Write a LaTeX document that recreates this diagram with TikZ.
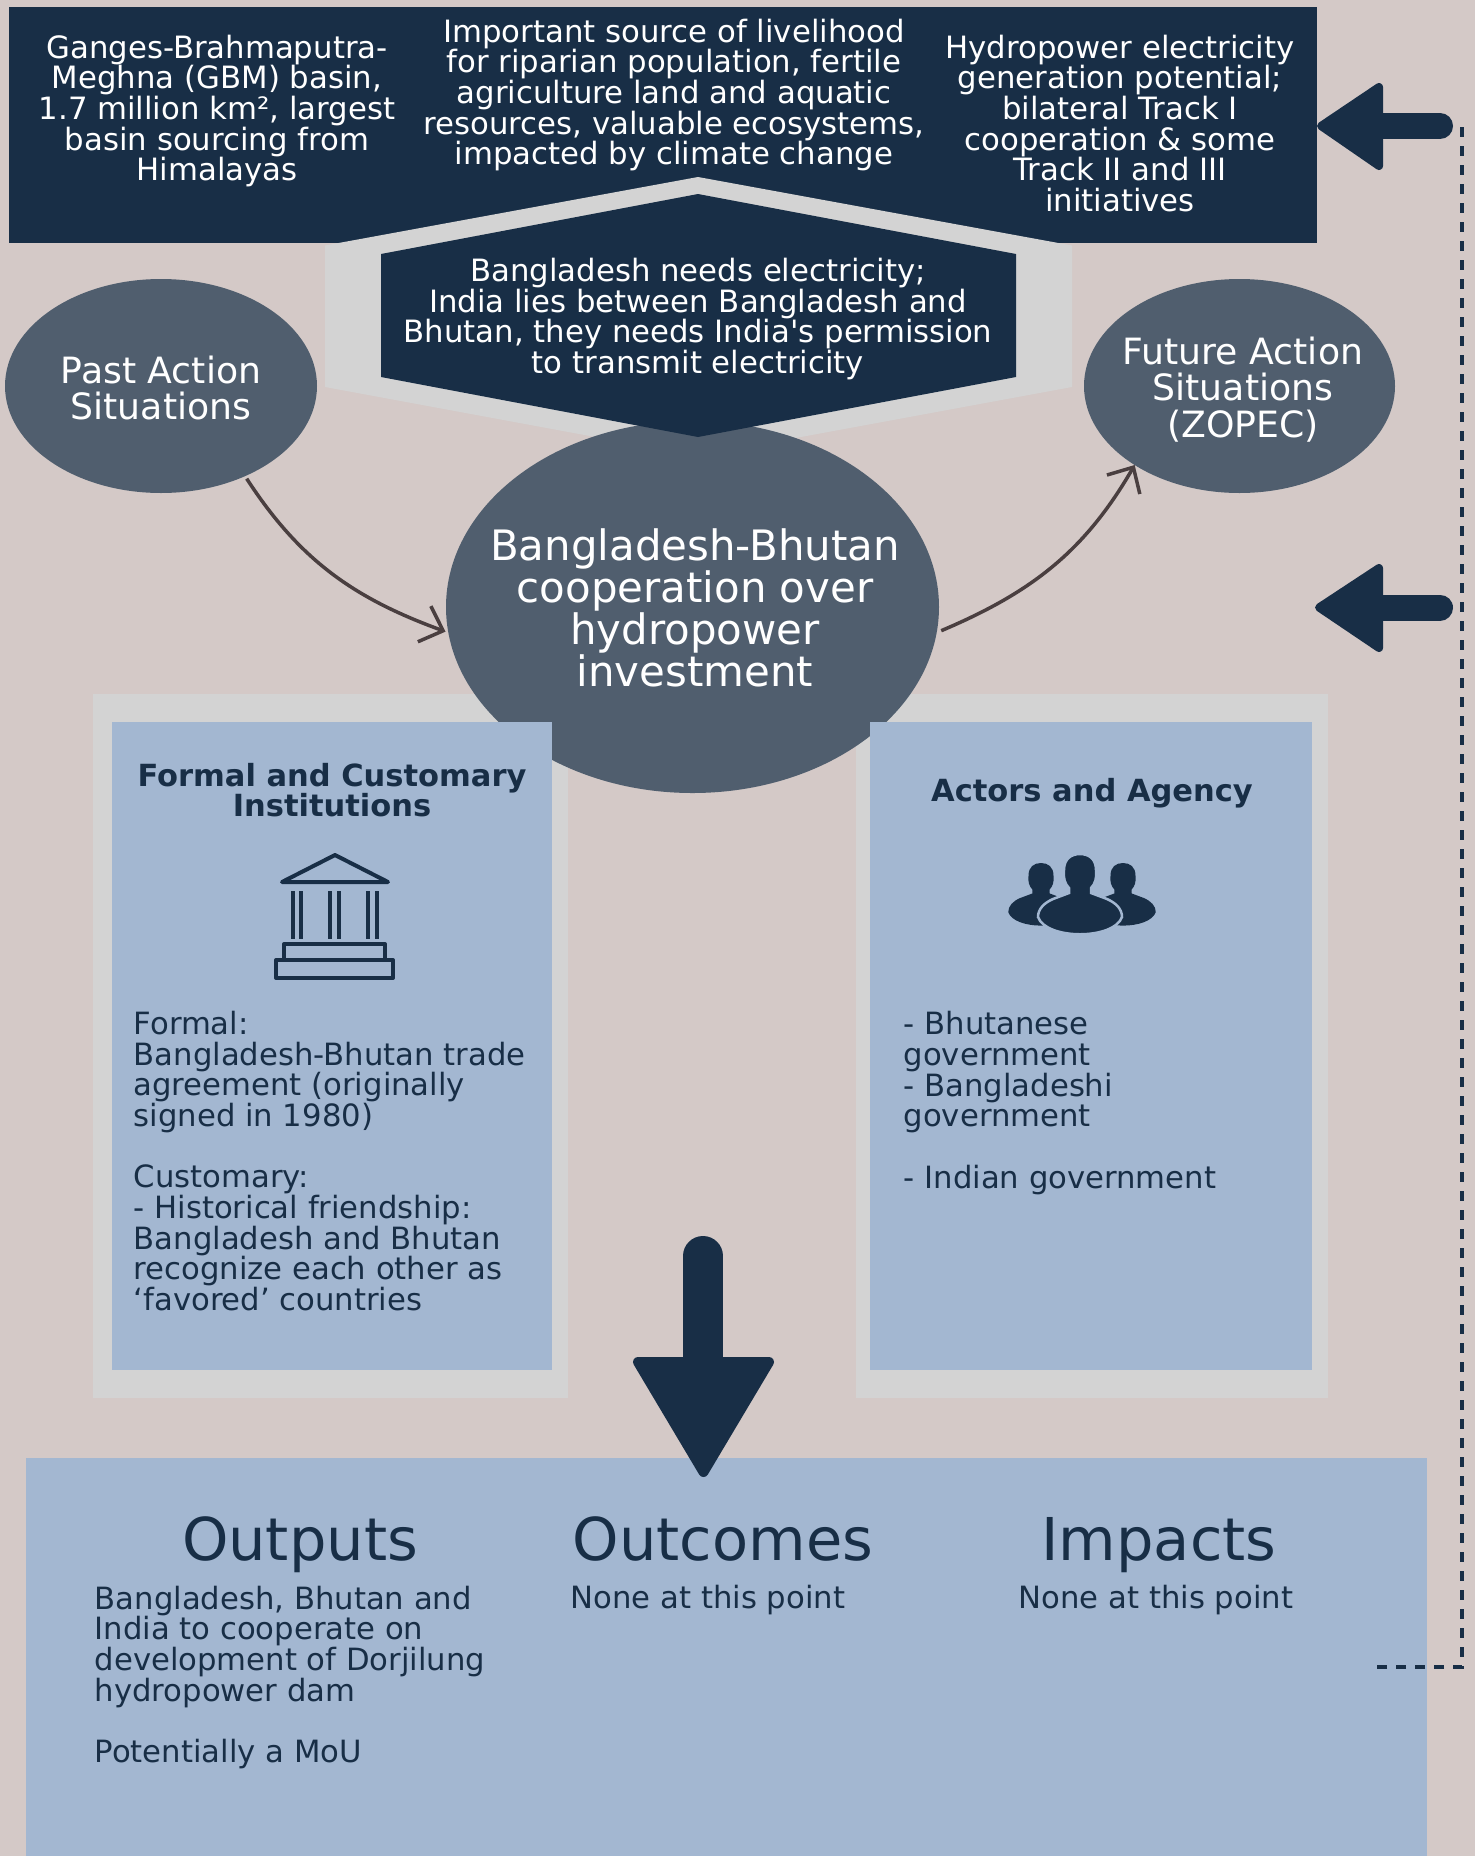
\documentclass[tikz,border=0pt]{standalone}
\usepackage{fontspec}
\usetikzlibrary{arrows.meta,shapes.geometric}
\newfontfamily\labelfont{DejaVu Sans}
\definecolor{paper}{HTML}{D4C9C7}
\definecolor{navy}{HTML}{182E46}
\definecolor{slate}{HTML}{505E6E}
\definecolor{steel}{HTML}{A3B7D1}
\definecolor{frame}{HTML}{D3D3D3}
\definecolor{curve}{HTML}{4A3F40}
\lineskiplimit=-20pt
\newcommand{\personshape}{(-.11,-.34) .. controls (-.15,-.30) and (-.17,-.24) .. (-.16,-.16) .. controls (-.16,-.05) and (-.09,0) .. (0,0) .. controls (.09,0) and (.16,-.05) .. (.16,-.16) .. controls (.17,-.24) and (.15,-.30) .. (.11,-.34) -- (.11,-.39) -- (.27,-.45) .. controls (.36,-.49) and (.42,-.55) .. (.42,-.63) .. controls (.34,-.86) and (-.34,-.86) .. (-.42,-.63) .. controls (-.42,-.55) and (-.36,-.49) .. (-.27,-.45) -- (-.11,-.39) -- cycle}
\begin{document}
\begin{tikzpicture}[
    panel/.style={inner sep=0pt,outer sep=0pt,anchor=north west},
    bubble/.style={ellipse,fill=slate,inner sep=0pt,outer sep=0pt},
    lighttext/.style={text=white,align=center,inner sep=0pt,font=\labelfont\fontsize{8.75}{8.73}\selectfont},
    bubbletext/.style={text=white,align=center,inner sep=0pt,font=\labelfont\fontsize{10.3}{10.4}\selectfont},
    boxtitle/.style={text=navy,align=center,inner sep=0pt,font=\labelfont\bfseries\fontsize{8.68}{8.73}\selectfont},
    boxtext/.style={text=navy,align=left,inner sep=0pt,font=\labelfont\fontsize{8.73}{8.73}\selectfont},
    heading/.style={text=navy,inner sep=0pt,anchor=base,font=\labelfont\fontsize{16.8}{17}\selectfont},
    blockhead/.style={fill=navy,draw=navy,line join=round},
    shaft/.style={draw=navy,line cap=round},
    swoop/.style={draw=curve,line width=.035cm,-{Straight Barb[length=.2cm,width=.38cm]}},
    icon/.style={draw=navy,line width=.04cm,line join=round}]
        \useasboundingbox (0,0) rectangle (14.75,-18.56);
        \fill[paper] (0,0) rectangle (14.75,-18.56);

        \node[panel,fill=navy,minimum width=13.08cm,minimum height=2.36cm] (context) at (.09,-.07) {};
        \fill[frame] (6.98,-1.77) -- (10.72,-2.455) -- (10.72,-3.87) -- (6.98,-4.56) -- (3.25,-3.87) -- (3.25,-2.455) -- cycle;

        \node[panel,fill=frame,minimum width=4.75cm,minimum height=7.04cm] (institutionsframe) at (.93,-6.94) {};
        \node[panel,fill=frame,minimum width=4.72cm,minimum height=7.04cm] (actorsframe) at (8.56,-6.94) {};
        \node[bubble,minimum width=4.93cm,minimum height=3.72cm] (cooperation) at (6.925,-6.07) {};
        \node[panel,fill=steel,minimum width=4.40cm,minimum height=6.48cm] (institutions) at (1.12,-7.22) {};
        \node[panel,fill=steel,minimum width=4.42cm,minimum height=6.48cm] (actors) at (8.70,-7.22) {};
        \node[panel,fill=steel,minimum width=14.01cm,minimum height=3.98cm] (results) at (.26,-14.58) {};

        \fill[navy] (6.98,-1.94) -- (10.16,-2.54) -- (10.16,-3.77) -- (6.98,-4.37) -- (3.81,-3.77) -- (3.81,-2.54) -- cycle;

        \node[bubble,minimum width=3.12cm,minimum height=2.14cm] (past) at (1.61,-3.86) {};
        \node[bubble,minimum width=3.11cm,minimum height=2.14cm] (future) at (12.395,-3.86) {};

        \node[lighttext] (basin) at (2.17,-1.11) {Ganges-Brahmaputra-\\Meghna (GBM) basin,\\1.7 million km², largest\\basin sourcing from\\Himalayas};
        \node[lighttext] (livelihood) at (6.74,-.95) {Important source of livelihood\\for riparian population, fertile\\agriculture land and aquatic\\resources, valuable ecosystems,\\impacted by climate change};
        \node[lighttext] (potential) at (11.20,-1.235) {Hydropower electricity\\generation potential;\\bilateral Track I\\cooperation \& some\\Track II and III\\initiatives};
        \node[lighttext] (needs) at (6.98,-3.19) {Bangladesh needs electricity;\\India lies between Bangladesh and\\Bhutan, they needs India\char"0027{}s permission\\to transmit electricity};
        \node[bubbletext] (pasttext) at (1.61,-3.88) {Past Action\\Situations};
        \node[bubbletext] (futuretext) at (12.43,-3.895) {Future Action\\Situations\\(ZOPEC)};
        \node[text=white,align=center,inner sep=0pt,font=\labelfont\fontsize{11.92}{11.9}\selectfont] (cooperationtext) at (6.95,-6.08) {Bangladesh-Bhutan\\cooperation over\\hydropower\\investment};

        \node[boxtitle] (institutionstitle) at (3.32,-7.90) {Formal and Customary\\Institutions};
        \node[boxtitle] (actorstitle) at (10.92,-7.93) {Actors and Agency};
        \node[boxtext,anchor=west] (institutionstext) at (1.33,-11.61) {Formal:\\Bangladesh-Bhutan trade\\agreement (originally\\signed in 1980)\\[8.73pt]Customary:\\- Historical friendship:\\Bangladesh and Bhutan\\recognize each other as\\‘favored’ countries};
        \node[boxtext,anchor=west] (actorstext) at (9.03,-11.03) {- Bhutanese\\government\\- Bangladeshi\\government\\[8.73pt]- Indian government};

        \node[heading] (outputs) at (3.00,-15.60) {Outputs};
        \node[heading] (outcomes) at (7.23,-15.60) {Outcomes};
        \node[heading] (impacts) at (11.59,-15.60) {Impacts};
        \node[boxtext,anchor=west] (outputstext) at (.94,-16.775) {Bangladesh, Bhutan and\\India to cooperate on\\development of Dorjilung\\hydropower dam\\[8.73pt]Potentially a MoU};
        \node[boxtext,anchor=west] (outcomestext) at (5.70,-16.00) {None at this point};
        \node[boxtext,anchor=west] (impactstext) at (10.18,-16.00) {None at this point};

        \draw[swoop,shorten <=.03cm,shorten >=.03cm] (past.-47) to[out=-57,in=160] (cooperation.186);
        \draw[swoop,shorten <=.05cm] (cooperation.-6) to[out=23,in=240] (future.217);

        \draw[shaft,line width=.40cm] (7.03,-12.56) -- (7.03,-14);
        \draw[blockhead,line width=.10cm] (6.38,-13.62) -- (7.69,-13.62) -- (7.035,-14.72) -- cycle;
        \draw[shaft,line width=.26cm] (14.40,-1.26) -- (13.6,-1.26);
        \draw[blockhead,line width=.08cm] (13.79,-.87) -- (13.79,-1.66) -- (13.21,-1.26) -- cycle;
        \draw[shaft,line width=.26cm] (14.40,-6.075) -- (13.6,-6.075);
        \draw[blockhead,line width=.08cm] (13.79,-5.68) -- (13.79,-6.48) -- (13.19,-6.075) -- cycle;

        \coordinate (feedbackstart) at (14.62,-1.27);
        \coordinate (feedbackend) at (13.75,-16.67);
        \draw[navy,line width=.035cm,dash pattern=on .10cm off .09cm] (feedbackstart) |- (feedbackend);

        \draw[icon] (2.82,-8.82) -- (3.35,-8.55) -- (3.88,-8.82) -- cycle;
        \foreach \colx in {2.93,3.01,3.30,3.39,3.68,3.77}
            \draw[icon] (\colx,-8.91) -- (\colx,-9.39);
        \draw[icon] (2.84,-9.44) rectangle (3.85,-9.60);
        \draw[icon] (2.76,-9.60) rectangle (3.93,-9.78);

        \foreach \headx in {10.41,11.23}
            \fill[navy,shift={(\headx,-8.63)},scale=.78] \personshape;
        \draw[fill=navy,draw=steel,line width=.025cm,shift={(10.80,-8.54)}] \personshape;
    \end{tikzpicture}
\end{document}
